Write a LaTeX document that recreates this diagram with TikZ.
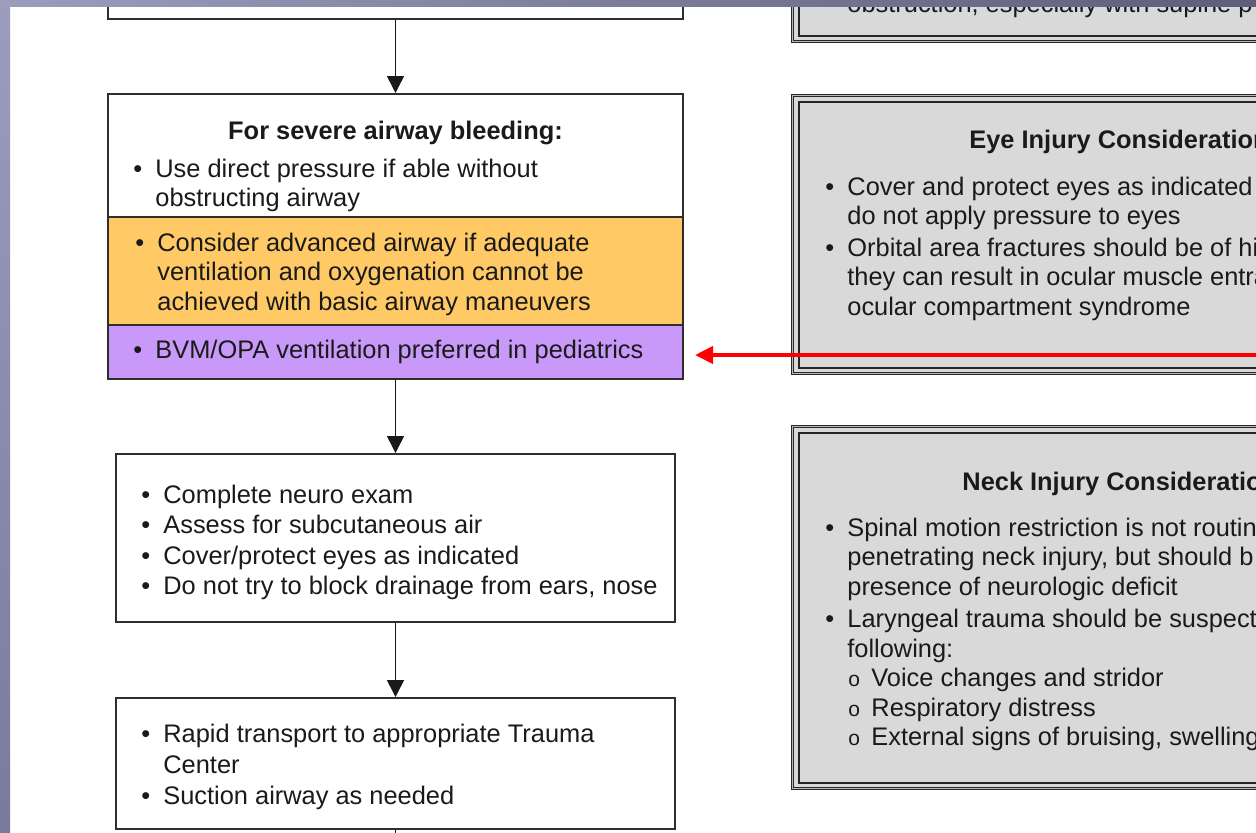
\documentclass[tikz,border=0pt]{standalone}
\usepackage{fontspec}
\setmainfont{Liberation Sans}
\usetikzlibrary{fit,arrows.meta}

\definecolor{boxline}{HTML}{2E2E2E}
\definecolor{textcol}{HTML}{1A1A1A}
\definecolor{advfill}{HTML}{FFCA66}
\definecolor{pedfill}{HTML}{C999FA}
\definecolor{notefill}{HTML}{D9D9D9}
\definecolor{stripA}{HTML}{9C9CBC}
\definecolor{stripB}{HTML}{7A7A9A}
\definecolor{stripC}{HTML}{5E5E7A}

% bullet list laid out as a two-column tabular, baseline on the first row
\newcommand\bitems[1]{\begin{tabular}[t]{@{}p{11pt}@{}l@{}}#1\end{tabular}}
\newcommand\subpoint[1]{\makebox[12pt][l]{\hspace{0.5pt}\fontsize{10.5pt}{10.5pt}\selectfont o}#1}

\tikzset{
  box/.style={draw=boxline, line width=1pt, fill=white, inner sep=0pt},
  band/.style={draw=boxline, line width=1pt, inner sep=0pt},
  note/.style={draw=black!85, double=gray!55, line width=0.5pt, double distance=0.5pt,
               fill=notefill, inner sep=0pt},
  noteinner/.style={draw=black!85, line width=1pt},
  txt/.style={inner sep=0pt, anchor=base west, text=textcol,
              font=\fontsize{12.7pt}{14.75pt}\selectfont},
  ttl/.style={inner sep=0pt, anchor=base, text=textcol,
              font=\fontsize{12.7pt}{14.75pt}\selectfont\bfseries},
  flow/.style={draw=black!90, line width=0.75pt, -{Triangle[length=8.5pt,width=8.5pt]}},
  link/.style={draw=red, line width=2pt, -{Triangle[length=9pt,width=8.5pt]}}
}

\begin{document}
\begin{tikzpicture}[x=0.5pt,y=-0.5pt]
\useasboundingbox (0,0) rectangle (1256,832);
\clip (0,0) rectangle (1256,832);
\fill[white] (0,0) rectangle (1256,832);

% ---------- left column: flow of steps ----------
\node[box, fit={(108,-40)(683,19)}] (prev) {};

\node[box, fit={(108,94)(683,379)}] (bleed) {};
\node[band, fill=advfill, fit={(108,217)(683,325)}] (adv) {};
\node[band, fill=pedfill, fit={(108,325)(683,379)}] (ped) {};
\node[ttl] (bleedT) at (395.5,139) {For severe airway bleeding:};
\node[txt] (bleedA) at (133,177) {\bitems{\textbullet & Use direct pressure if able without\\ & obstructing airway}};
\node[txt] (advA) at (135,251) {\bitems{\textbullet & Consider advanced airway if adequate\\
  & ventilation and oxygenation cannot be\\ & achieved with basic airway maneuvers}};
\node[txt] (pedA) at (133,358) {\bitems{\textbullet & BVM/OPA ventilation preferred in pediatrics}};

\node[box, fit={(116,454)(675,622)}] (neuro) {};
\node[txt] (neuroA) at (141,503) {\bitems{\textbullet & Complete neuro exam\\[0.5pt]
  \textbullet & Assess for subcutaneous air\\[0.5pt]
  \textbullet & Cover/protect eyes as indicated\\[0.5pt]
  \textbullet & Do not try to block drainage from ears, nose}};

\node[box, fit={(116,698)(675,829)}] (trans) {};
\node[txt] (transA) at (141,742) {\bitems{\textbullet & Rapid transport to appropriate Trauma\\[0.75pt]
  & Center\\[1pt]
  \textbullet & Suction airway as needed}};
\coordinate (next) at (395.5,860);

\draw[flow] (prev.south) -- (bleed.north);
\draw[flow] (bleed.south) -- (neuro.north);
\draw[flow] (neuro.south) -- (trans.north);
\draw[draw=black!90, line width=0.75pt] (trans.south) -- (next);

% ---------- right column: consideration notes ----------
\node[note, fit={(792.5,-40)(1320,41.5)}] (airnote) {};
\draw[noteinner] ([shift={(6.5,6.5)}]airnote.north west) rectangle ([shift={(-6.5,-6.5)}]airnote.south east);
\node[txt] (airA) at (847,12) {obstruction, especially with supine p};

\node[note, fit={(792.5,95.5)(1320,373.5)}] (eye) {};
\draw[noteinner] ([shift={(6.5,6.5)}]eye.north west) rectangle ([shift={(-6.5,-6.5)}]eye.south east);
\node[ttl, anchor=base west] (eyeT) at (969,148) {Eye Injury Consideration};
\node[txt] (eyeA) at (825,195) {\bitems{\textbullet & Cover and protect eyes as indicated\\
  & do not apply pressure to eyes\\[1pt]
  \textbullet & Orbital area fractures should be of hi\\
  & they can result in ocular muscle entra\\
  & ocular compartment syndrome}};

\node[note, fit={(792.5,426.5)(1320,788.5)}] (neck) {};
\draw[noteinner] ([shift={(6.5,6.5)}]neck.north west) rectangle ([shift={(-6.5,-6.5)}]neck.south east);
\node[ttl, anchor=base west] (neckT) at (962,490) {Neck Injury Consideratio};
\node[txt] (neckA) at (825,536) {\bitems{\textbullet & Spinal motion restriction is not routin\\
  & penetrating neck injury, but should b\\
  & presence of neurologic deficit\\[1.5pt]
  \textbullet & Laryngeal trauma should be suspect\\
  & following:\\
  & \subpoint{Voice changes and stridor}\\
  & \subpoint{Respiratory distress}\\
  & \subpoint{External signs of bruising, swelling}}};

\coordinate (linkstart) at (1300,355);
\draw[link, shorten >=5.5pt] (linkstart) -- (linkstart -| ped.east);

% ---------- window frame ----------
\shade[top color=stripA, bottom color=stripB] (0,0) rectangle (10,832);
\shade[left color=stripA, right color=stripC] (0,0) rectangle (1256,6);
\end{tikzpicture}
\end{document}
